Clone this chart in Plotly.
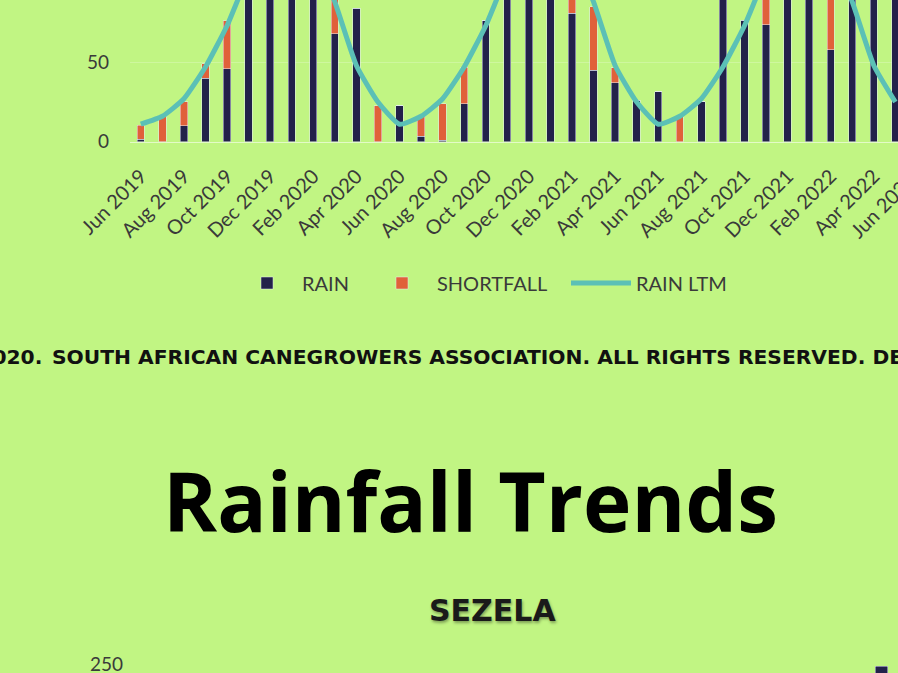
import plotly.graph_objects as go

W, H = 898, 673

# ---------------- data (top chart) ----------------
months = ["Jun 2019", "Jul 2019", "Aug 2019", "Sep 2019", "Oct 2019", "Nov 2019",
          "Dec 2019", "Jan 2020", "Feb 2020", "Mar 2020", "Apr 2020", "May 2020",
          "Jun 2020", "Jul 2020", "Aug 2020", "Sep 2020", "Oct 2020", "Nov 2020",
          "Dec 2020", "Jan 2021", "Feb 2021", "Mar 2021", "Apr 2021", "May 2021",
          "Jun 2021", "Jul 2021", "Aug 2021", "Sep 2021", "Oct 2021", "Nov 2021",
          "Dec 2021", "Jan 2022", "Feb 2022", "Mar 2022", "Apr 2022", "May 2022"]
next_month_label = "Jun 2022"

rain = [1.5, 0, 10, 40, 46, 130, 150, 140, 120, 68, 84, 0,
        22.5, 3.5, 1, 24, 76, 130, 160, 150, 81, 45, 37, 26,
        31.5, 0, 25, 95, 76.5, 73.5, 140, 170, 58, 120, 110, 95]
shortfall = [9, 15.7, 15, 9, 30, 0, 0, 0, 0, 22, 0, 22.5,
             0, 13, 23, 23, 0, 0, 0, 0, 39, 40, 9.5, 0,
             0, 15.7, 0, 0, 0, 31.5, 0, 0, 62, 0, 0, 0]
rain_ltm = [11, 16, 27, 47, 73, 105, 125, 130, 120, 88, 48, 25,
            11, 16, 27, 47, 73, 105, 125, 130, 120, 88, 48, 25,
            11, 16, 27, 47, 73, 105, 125, 130, 120, 88, 48, 25]
tick_labels = months[::2]
y_ticks = [0, 50, 100, 150, 200]

# ---------------- data (SEZELA chart, only the visible top) ----------------
sezela_months = ["May 2022"]
sezela_rain = [248]
sezela_ticks = [250]

# ---------------- styling ----------------
BG = "#c1f583"
NAVY = "#22214a"
ORANGE = "#e0613a"
TEAL = "#5bc0b6"
TXT = "#3a3a3a"
SANS = "Lato, Carlito, Calibri, sans-serif"
BOLD = "DejaVu Sans"
IW = 60  # legend symbol area width

# geometry of the top chart
x_left_px = 130
y_bottom_px = 141.7
y_top_val = 89.2
x_range = [-0.5, -0.5 + (W - x_left_px) / 21.56]

fig = go.Figure()
fig.add_trace(go.Bar(x=months, y=rain, name="RAIN", marker_color=NAVY,
                     width=0.34, xaxis="x", yaxis="y", legendwidth=120 - IW))
fig.add_trace(go.Bar(x=months, y=shortfall, name="SHORTFALL", marker_color=ORANGE,
                     width=0.34, xaxis="x", yaxis="y", legendwidth=184 - IW))
fig.add_trace(go.Scatter(x=months, y=rain_ltm, name="RAIN LTM", mode="lines",
                         line=dict(color=TEAL, width=5, shape="spline", smoothing=0.5),
                         xaxis="x", yaxis="y", legendwidth=100))

# SEZELA chart (bottom, mostly below the visible area)
fig.add_trace(go.Bar(x=sezela_months, y=sezela_rain, marker_color=NAVY, width=0.59,
                     showlegend=False, xaxis="x2", yaxis="y2"))

x2_left_px = 142
x2_r1 = -0.5 + 35.5 * (W - x2_left_px) / (881.5 - x2_left_px)

fig.update_layout(
    width=W, height=H,
    margin=dict(l=0, r=0, t=0, b=0, pad=0, autoexpand=False),
    paper_bgcolor=BG, plot_bgcolor=BG,
    barmode="stack",
    showlegend=True,
    legend=dict(orientation="h", x=232 / W, xanchor="left", y=1 - 283 / H,
                yanchor="middle", traceorder="normal",
                font=dict(family=SANS, size=20, color=TXT),
                bgcolor="rgba(0,0,0,0)", itemwidth=IW),
    xaxis=dict(domain=[x_left_px / W, 1], anchor="y", type="category",
               categoryorder="array", categoryarray=months, range=x_range,
               tickmode="array", tickvals=tick_labels, ticktext=tick_labels,
               tickangle=-45, ticks="", ticklabelstandoff=14, automargin=False,
               ticklabeloverflow="allow",
               tickfont=dict(family=SANS, size=20, color=TXT),
               showgrid=False, showline=True, linecolor="rgba(255,255,255,0.55)",
               linewidth=1, zeroline=False),
    yaxis=dict(domain=[1 - y_bottom_px / H, 1], anchor="x", range=[0, y_top_val],
               tickmode="array", tickvals=y_ticks, ticks="", ticklabelstandoff=20,
               automargin=False,
               tickfont=dict(family=SANS, size=19, color=TXT),
               showgrid=True, gridcolor="rgba(255,255,255,0.22)", zeroline=False),
    xaxis2=dict(domain=[x2_left_px / W, 1], anchor="y2", type="category",
                categoryorder="array", categoryarray=months, range=[-0.5, x2_r1],
                automargin=False,
                showticklabels=False, showgrid=False, zeroline=False, showline=False),
    yaxis2=dict(domain=[0, 10 / H], anchor="x2", range=[241, 251],
                tickmode="array", tickvals=sezela_ticks, ticks="", ticklabelstandoff=18,
                automargin=False, ticklabeloverflow="allow",
                tickfont=dict(family=SANS, size=19, color=TXT),
                showgrid=False, zeroline=False),
)

# partially visible tick label of the next month (its tick is beyond the plot edge)
span = x_range[1] - x_range[0]
next_idx = len(months)
next_px = x_left_px + (next_idx - x_range[0]) / span * (W - x_left_px)
fig.add_annotation(text=next_month_label, xref="paper", yref="paper",
                   x=(next_px + 6) / W, y=1 - 165 / H, xanchor="right", yanchor="top",
                   textangle=-45, showarrow=False,
                   font=dict(family=SANS, size=20, color=TXT))

# copyright line
fig.add_annotation(text="SOUTH AFRICAN CANEGROWERS ASSOCIATION. ALL RIGHTS RESERVED. DESIGNED BY",
                   xref="paper", yref="paper", x=50 / W, y=1 - 357 / H,
                   xanchor="left", yanchor="middle", showarrow=False,
                   font=dict(family=BOLD, size=20.25, color="#111111", weight=700))
fig.add_annotation(text="© 2020.", xref="paper", yref="paper", x=44 / W, y=1 - 357 / H,
                   xanchor="right", yanchor="middle", showarrow=False,
                   font=dict(family=BOLD, size=20.25, color="#111111", weight=700))

# page title
fig.add_annotation(text="Rainfall Trends", xref="paper", yref="paper",
                   x=470 / W, y=1 - 500 / H, xanchor="center", yanchor="middle",
                   showarrow=False,
                   font=dict(family="Open Sans", size=82, color="#000000", weight=700))

# SEZELA chart title
fig.add_annotation(text="SEZELA", xref="paper", yref="paper",
                   x=492 / W, y=1 - 610 / H, xanchor="center", yanchor="middle",
                   showarrow=False,
                   font=dict(family=BOLD, size=30, color="#1a1a1a", weight=700,
                             shadow="1px 2px 3px rgba(0,0,0,0.35)"))

fig.write_html("out.html", config={"displayModeBar": False},
               post_script="document.body.style.margin='0';"
                           "document.body.style.overflow='hidden';")
